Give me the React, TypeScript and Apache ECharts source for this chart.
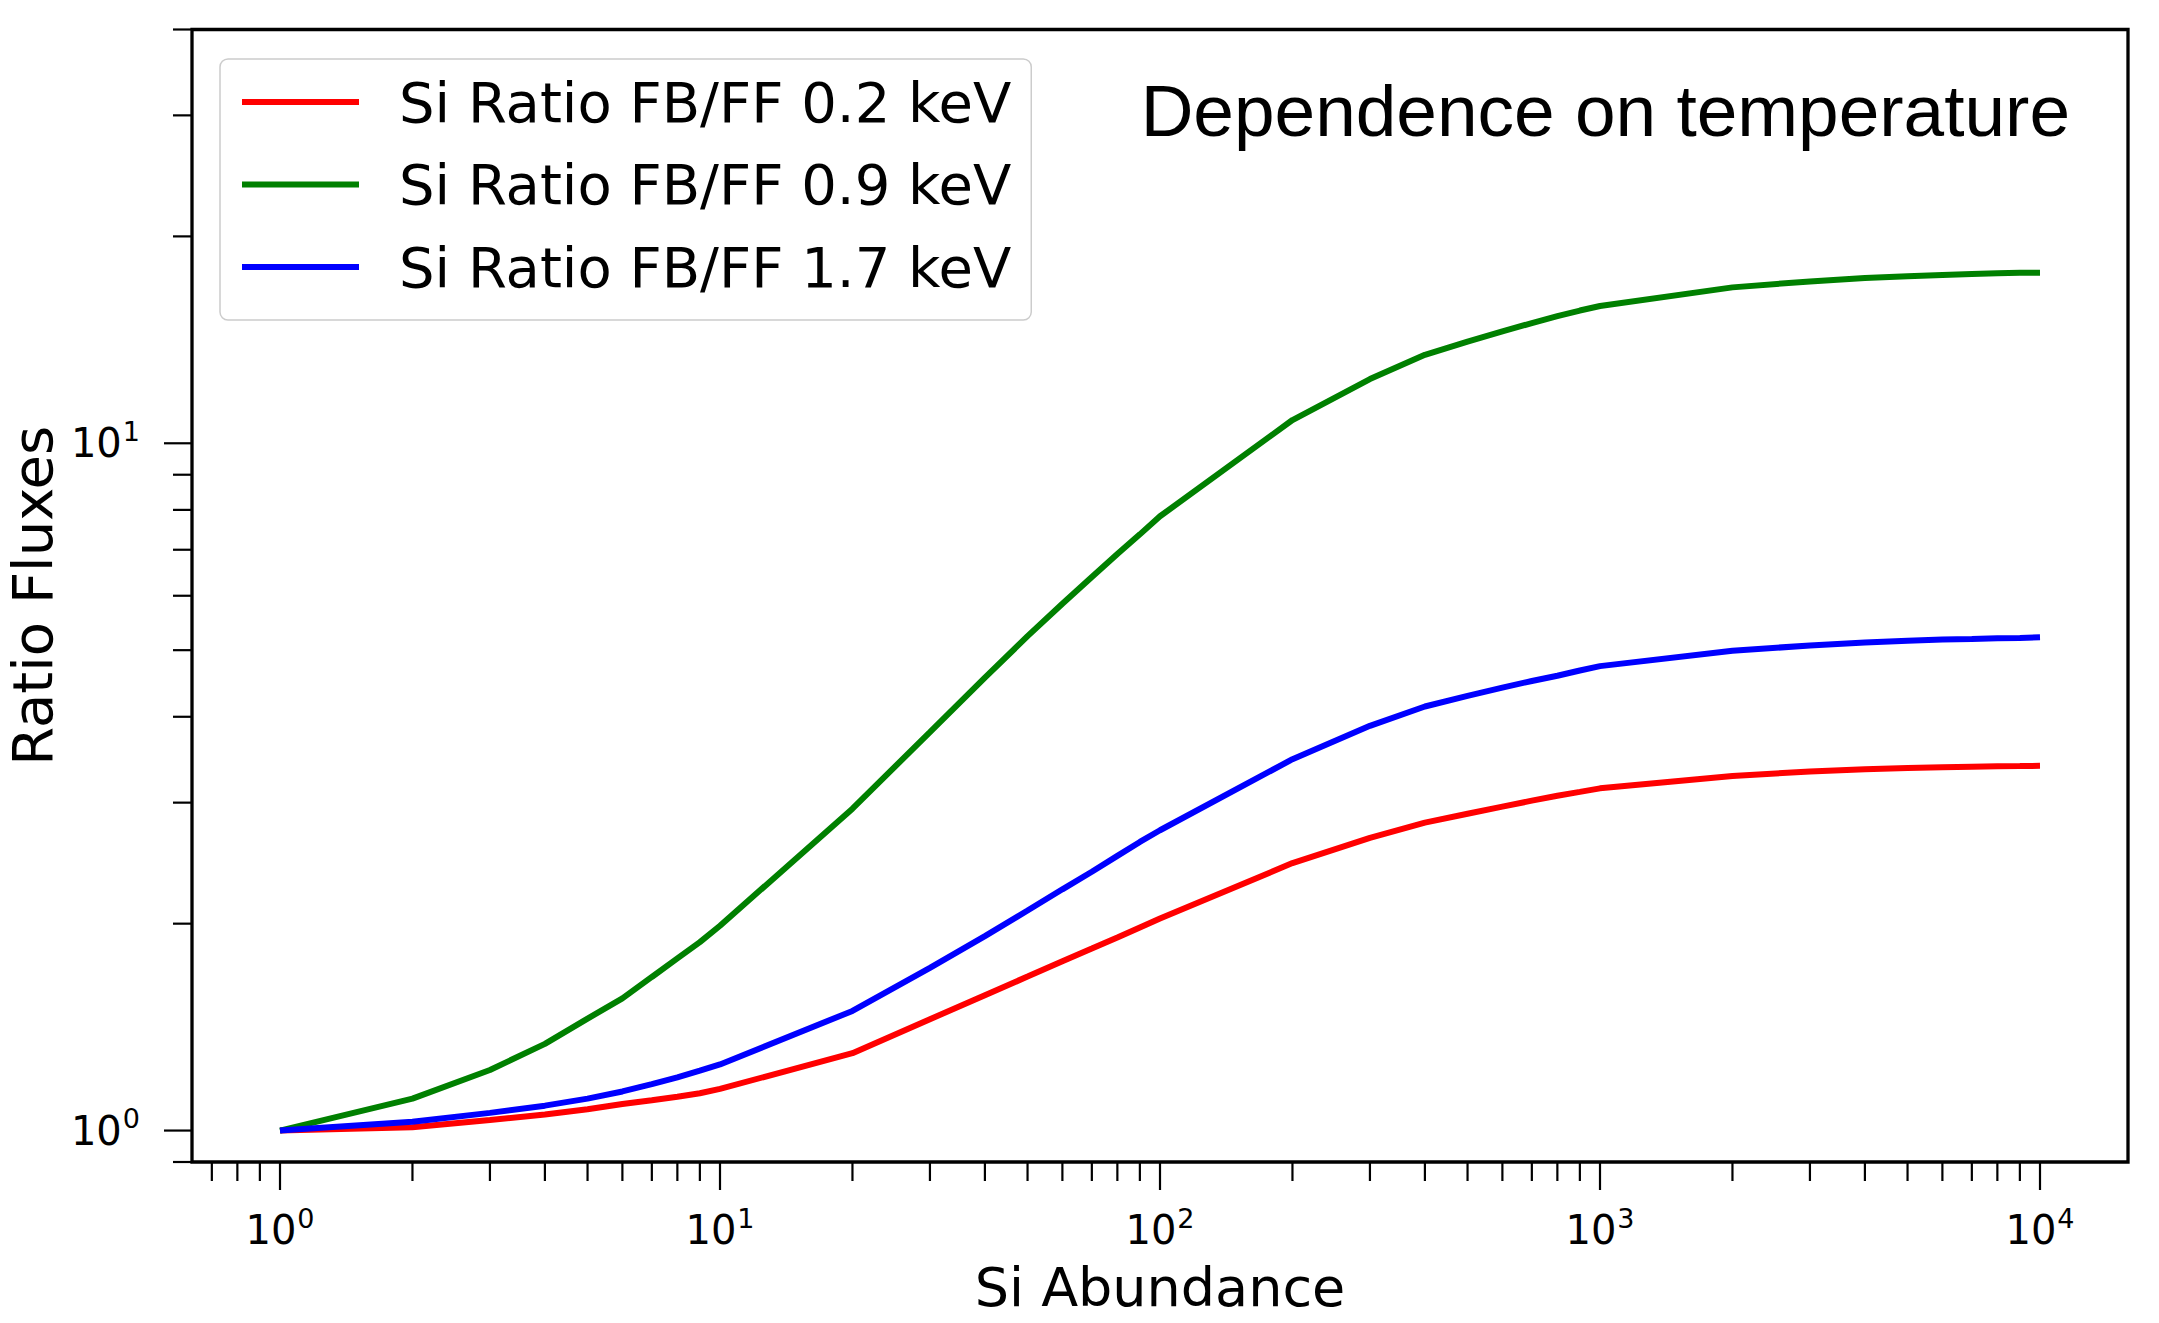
import React, { useEffect, useRef } from "react";
import * as echarts from "echarts";

// Si abundance sample points
const ABUNDANCE = [
  1, 2, 3, 4, 5, 6, 7, 8, 9, 10,
  20, 30, 40, 50, 60, 70, 80, 90, 100,
  200, 300, 400, 500, 600, 700, 800, 900, 1000,
  2000, 3000, 4000, 5000, 6000, 7000, 8000, 9000, 10000,
];

const RATIO_02 = [
  1.0, 1.011, 1.036, 1.055, 1.074, 1.093, 1.107, 1.12, 1.133, 1.15,
  1.296, 1.452, 1.574, 1.675, 1.763, 1.84, 1.91, 1.975, 2.035,
  2.45, 2.666, 2.806, 2.89, 2.96, 3.02, 3.07, 3.11, 3.147,
  3.28, 3.33, 3.355, 3.37, 3.378, 3.384, 3.388, 3.391, 3.394,
];

const RATIO_09 = [
  1.0, 1.113, 1.225, 1.337, 1.455, 1.557, 1.673, 1.78, 1.88, 1.986,
  2.94, 3.8, 4.56, 5.24, 5.84, 6.39, 6.9, 7.37, 7.83,
  10.81, 12.4, 13.45, 14.06, 14.55, 14.96, 15.31, 15.6, 15.84,
  16.86, 17.2, 17.4, 17.5, 17.58, 17.63, 17.67, 17.7, 17.71,
];

const RATIO_17 = [
  1.0, 1.03, 1.061, 1.087, 1.113, 1.14, 1.168, 1.195, 1.222, 1.248,
  1.493, 1.725, 1.918, 2.09, 2.244, 2.38, 2.51, 2.63, 2.735,
  3.47, 3.88, 4.14, 4.29, 4.41, 4.51, 4.59, 4.67, 4.74,
  4.99, 5.08, 5.13, 5.16, 5.18, 5.19, 5.205, 5.21, 5.22,
];

const SERIES_NAMES = [
  "Si Ratio FB/FF 0.2 keV",
  "Si Ratio FB/FF 0.9 keV",
  "Si Ratio FB/FF 1.7 keV",
];

// axis limits
const X_MIN = Math.pow(10, -0.2);
const X_MAX = Math.pow(10, 4.2);
const Y_MIN = 0.9;
const Y_MAX = 40;

// ticks
const X_MAJOR_TICKS = [1, 10, 100, 1000, 10000];
const X_MINOR_TICKS = [
  0.7, 0.8, 0.9,
  2, 3, 4, 5, 6, 7, 8, 9,
  20, 30, 40, 50, 60, 70, 80, 90,
  200, 300, 400, 500, 600, 700, 800, 900,
  2000, 3000, 4000, 5000, 6000, 7000, 8000, 9000,
];
const Y_MAJOR_TICKS = [1, 10];
const Y_MINOR_TICKS = [0.9, 2, 3, 4, 5, 6, 7, 8, 9, 20, 30, 40];

const TITLE_TEXT = "Dependence on temperature";
const X_NAME = "Si Abundance";
const Y_NAME = "Ratio Fluxes";

const FONT = "DejaVu Sans";

function tickSeries(values: number[], dir: "x" | "y", len: number) {
  return {
    type: "custom",
    silent: true,
    clip: false,
    z: 10,
    coordinateSystem: "cartesian2d",
    encode: { x: 0, y: 1 },
    data: values.map((v) => (dir === "x" ? [v, Y_MIN] : [X_MIN, v])),
    renderItem: (params: any, api: any) => {
      const p = api.coord([api.value(0), api.value(1)]);
      const shape =
        dir === "x"
          ? { x1: p[0], y1: p[1], x2: p[0], y2: p[1] + len }
          : { x1: p[0], y1: p[1], x2: p[0] - len, y2: p[1] };
      return {
        type: "line",
        shape,
        style: { stroke: "#000", lineWidth: 2.2 },
      };
    },
  };
}

const labelFormatter = (v: number) => {
  const e = Math.log10(v);
  const r = Math.round(e);
  if (Math.abs(e - r) > 1e-6) return "";
  return `{b|10}{s|${r}}`;
};

const richLabel = {
  b: { fontFamily: FONT, fontSize: 40, lineHeight: 40, color: "#000" },
  s: {
    fontFamily: FONT,
    fontSize: 27,
    lineHeight: 16,
    padding: [0, 0, 24, 1],
    color: "#000",
  },
};

export default function App() {
  const ref = useRef<HTMLDivElement>(null);

  useEffect(() => {
    if (!ref.current) return;
    const chart = echarts.init(ref.current, null, { renderer: "svg" });
    const colors = ["#ff0000", "#008000", "#0000ff"];
    const ratios = [RATIO_02, RATIO_09, RATIO_17];

    const option: any = {
      animation: false,
      backgroundColor: "#ffffff",
      grid: {
        left: 192,
        top: 29.5,
        width: 1936,
        height: 1132.5,
        show: true,
        borderColor: "#000",
        borderWidth: 3.3,
        backgroundColor: "transparent",
        containLabel: false,
        outerBoundsMode: "none",
      },
      legend: {
        show: true,
        orient: "vertical",
        left: 220,
        top: 59,
        icon: "rect",
        itemWidth: 117,
        itemHeight: 6,
        itemGap: 22.5,
        padding: [13, 20, 23, 22],
        backgroundColor: "rgba(255,255,255,0.8)",
        borderColor: "#cccccc",
        borderWidth: 1.5,
        borderRadius: 8,
        selectedMode: false,
        data: SERIES_NAMES,
        textStyle: {
          fontFamily: FONT,
          fontSize: 56,
          lineHeight: 60,
          color: "#000",
          padding: [0, 0, 0, 35],
        },
      },
      graphic: [
        {
          type: "text",
          x: 2070,
          y: 110,
          silent: true,
          style: {
            text: TITLE_TEXT,
            fontFamily: "Liberation Sans",
            fontSize: 73,
            fill: "#000",
            textAlign: "right",
            textVerticalAlign: "middle",
          },
        },
      ],
      xAxis: {
        type: "log",
        logBase: 10,
        min: X_MIN,
        max: X_MAX,
        name: X_NAME,
        nameLocation: "middle",
        nameGap: 92,
        nameTextStyle: { fontFamily: FONT, fontSize: 54, color: "#000" },
        axisLine: { show: false },
        axisTick: { show: false },
        splitLine: { show: false },
        minorTick: { show: false },
        axisLabel: {
          show: true,
          margin: 48,
          formatter: labelFormatter,
          rich: richLabel,
          hideOverlap: false,
        },
      },
      yAxis: {
        type: "log",
        logBase: 10,
        min: Y_MIN,
        max: Y_MAX,
        name: Y_NAME,
        nameLocation: "middle",
        nameGap: 131,
        nameRotate: 90,
        nameTextStyle: { fontFamily: FONT, fontSize: 56, color: "#000" },
        axisLine: { show: false },
        axisTick: { show: false },
        splitLine: { show: false },
        minorTick: { show: false },
        axisLabel: {
          show: true,
          margin: 52,
          formatter: labelFormatter,
          rich: richLabel,
          hideOverlap: false,
        },
      },
      series: [
        ...ratios.map((r, i) => ({
          type: "line",
          name: SERIES_NAMES[i],
          color: colors[i],
          data: ABUNDANCE.map((x, j) => [x, r[j]]),
          symbol: "none",
          showSymbol: false,
          smooth: false,
          lineStyle: { color: colors[i], width: 6 },
          itemStyle: { color: colors[i] },
          z: 3,
        })),
        tickSeries(X_MAJOR_TICKS, "x", 28),
        tickSeries(X_MINOR_TICKS, "x", 19),
        tickSeries(Y_MAJOR_TICKS, "y", 28),
        tickSeries(Y_MINOR_TICKS, "y", 19),
      ],
    };

    chart.setOption(option);
    return () => {
      chart.dispose();
    };
  }, []);

  return (
    <div
      ref={ref}
      style={{
        position: "fixed",
        left: 0,
        top: 0,
        width: "2159px",
        height: "1323px",
        background: "#fff",
      }}
    />
  );
}
